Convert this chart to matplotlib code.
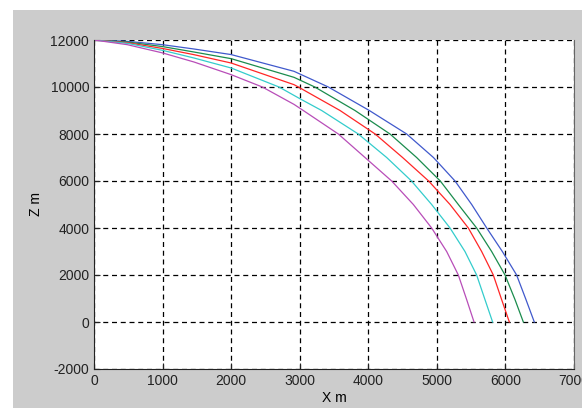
import numpy as np
import matplotlib
matplotlib.use("Agg")
import matplotlib.pyplot as plt
from matplotlib.patches import Rectangle

plt.rcParams['font.family'] = ['Liberation Sans', 'DejaVu Sans']
plt.rcParams['axes.unicode_minus'] = False

# trajectories (x in m, z in m)
x_blue = [0, 486, 1000, 1458, 2000, 2917, 3417, 4015, 4560, 4950, 5265, 5508, 5727, 5955, 6163, 6300, 6421]
z_blue = [12000, 11943, 11800, 11617, 11380, 10667, 10000, 9000, 8000, 7000, 6000, 5000, 4000, 3000, 2000, 950, 0]

x_green = [0, 486, 1000, 1458, 2000, 2917, 3220, 3806, 4317, 4705, 5050, 5313, 5580, 5799, 5994, 6140, 6261]
z_green = [12000, 11915, 11720, 11489, 11206, 10411, 10000, 9000, 8000, 7000, 6000, 5000, 4000, 3000, 2000, 950, 0]

x_red = [0, 486, 1000, 1458, 2000, 2917, 2980, 3588, 4100, 4500, 4880, 5192, 5459, 5653, 5823, 5945, 6057]
z_red = [12000, 11886, 11640, 11376, 11021, 10099, 10000, 9000, 8000, 7000, 6000, 5000, 4000, 3000, 2000, 950, 0]

x_cyan = [0, 486, 1000, 1458, 2000, 2698, 3004, 3320, 3854, 4268, 4630, 4924, 5192, 5410, 5580, 5702, 5813]
z_cyan = [12000, 11858, 11560, 11234, 10809, 10000, 9500, 9000, 8000, 7000, 6000, 5000, 4000, 3000, 2000, 950, 0]

x_mag = [0, 486, 1000, 1458, 2000, 2455, 2917, 3052, 3563, 3952, 4341, 4657, 4924, 5143, 5313, 5435, 5542]
z_mag = [12000, 11801, 11450, 11064, 10525, 10000, 9260, 9000, 8000, 7000, 6000, 5000, 4000, 3000, 2000, 950, 0]

xticks = np.arange(0, 7001, 1000)
yticks = np.arange(-2000, 12001, 2000)

fig = plt.figure(figsize=(5.82, 4.08), dpi=100)
fig.patch.set_facecolor('white')
# grey window area (white strip on top and left)
fig.patches.append(Rectangle((13 / 582, 0), 1, 398 / 408, transform=fig.transFigure,
                             facecolor='#cccccc', edgecolor='none', zorder=-10))

ax = fig.add_axes([94 / 582, 39 / 408, 480 / 582, 329 / 408])
ax.set_zorder(5)
ax.set_facecolor('white')

ax.plot(x_blue, z_blue, color=(0.25, 0.35, 0.8), lw=0.9)
ax.plot(x_green, z_green, color=(0.1, 0.55, 0.3), lw=0.9)
ax.plot(x_red, z_red, color=(1, 0.15, 0.15), lw=0.9)
ax.plot(x_cyan, z_cyan, color=(0.2, 0.8, 0.8), lw=0.9)
ax.plot(x_mag, z_mag, color=(0.72, 0.3, 0.72), lw=0.9)

ax.set_xlim(0, 7000)
ax.set_ylim(-2000, 12000)
ax.set_xticks(xticks)
ax.set_yticks(yticks)
ax.grid(True, color='black', linestyle=(0, (4, 3)), linewidth=0.9)
ax.tick_params(direction='in', length=4, labelsize=10, colors='#222222')

ax.spines['top'].set_visible(False)
ax.spines['right'].set_color('#666666')
ax.spines['left'].set_color('#222222')
ax.spines['bottom'].set_color('#222222')

ax.set_xlabel('X m', fontsize=10, labelpad=2)
ax.set_ylabel('Z m', fontsize=10, labelpad=5)

fig.savefig('out.png', dpi=100)
